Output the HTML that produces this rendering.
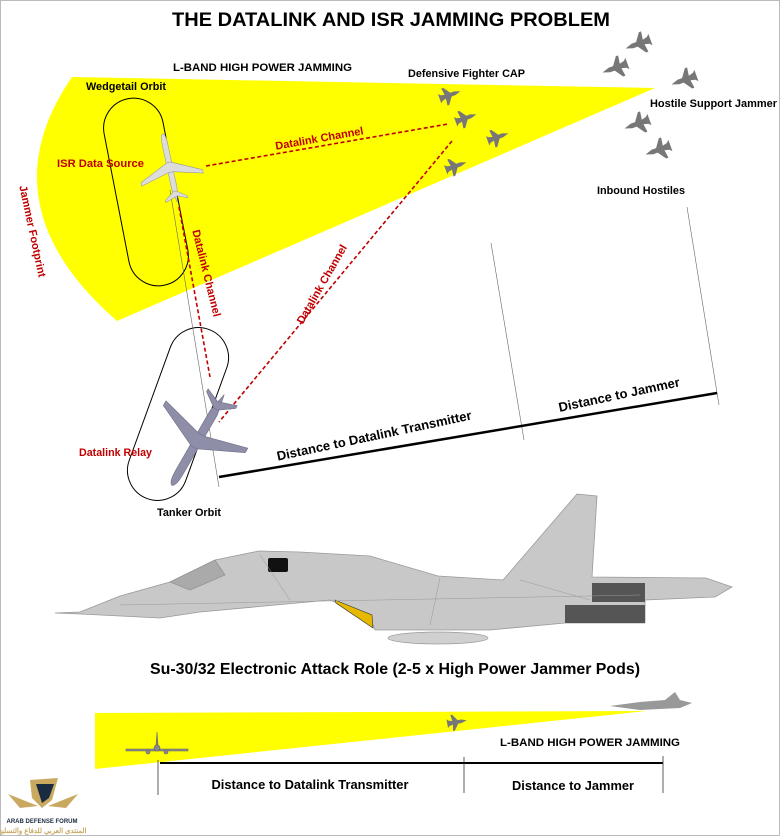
<!DOCTYPE html>
<html><head><meta charset="utf-8"><style>
html,body{margin:0;padding:0;background:#fff}
svg{display:block}
text{font-family:"Liberation Sans",sans-serif;font-weight:bold}
</style></head><body>
<svg width="780" height="836" viewBox="0 0 780 836" xmlns="http://www.w3.org/2000/svg">
<defs>
<g id="air">
<path d="M0,-50 C4,-48 4,-40 4,-30 L4,30 L0,50 L-4,30 L-4,-30 C-4,-40 -4,-48 0,-50Z"/>
<path d="M-3,-8 L-45,12 L-45,17 L-3,6 L3,6 L45,17 L45,12 L3,-8Z"/>
<path d="M-2,34 L-16,44 L-16,47 L2,41 L16,47 L16,44 L2,34Z"/>
</g>
<g id="ftr">
<path d="M0,-11 L2,-5 L2,-1 L9,4 L9,6 L2,5 L3,9 L5,11 L-5,11 L-3,9 L-2,5 L-9,6 L-9,4 L-2,-1 L-2,-5Z"/>
</g>
</defs>
<rect x="0.5" y="0.5" width="779" height="835" fill="none" stroke="#bbb"/>
<text x="391" y="26" font-size="19" text-anchor="middle" textLength="438" lengthAdjust="spacingAndGlyphs">THE DATALINK AND ISR JAMMING PROBLEM</text>

<!-- jammer footprint -->
<path d="M72,77 L655,88 L117,321 Q-16,205 72,77Z" fill="#ffff00"/>

<!-- orbits -->
<rect x="116" y="97" width="60" height="190" rx="30" fill="none" stroke="#000" stroke-width="1" transform="rotate(-11 146 192)"/>
<rect x="148" y="324" width="60" height="180" rx="30" fill="none" stroke="#000" stroke-width="1" transform="rotate(20 178 414)"/>

<!-- thin lines -->
<line x1="170" y1="190" x2="219" y2="487" stroke="#666" stroke-width="0.6"/>
<line x1="491" y1="243" x2="524" y2="440" stroke="#666" stroke-width="0.6"/>
<line x1="687" y1="207" x2="719" y2="405" stroke="#666" stroke-width="0.6"/>
<line x1="219" y1="477" x2="717" y2="393" stroke="#000" stroke-width="2.5"/>

<!-- dashed datalinks -->
<g stroke="#c00000" stroke-width="1.6" stroke-dasharray="4,2.5" fill="none">
<line x1="206" y1="166" x2="448" y2="124"/>
<line x1="452" y1="141" x2="219" y2="422"/>
<line x1="179" y1="207" x2="210" y2="377"/>
</g>

<!-- planes -->
<use href="#air" fill="#dcdcdc" stroke="#999" stroke-width="0.8" transform="translate(170,168) rotate(-12) scale(0.7)"/>
<use href="#air" fill="#8e8ea8" stroke="#70708a" stroke-width="0.6" transform="translate(198,440) rotate(210) scale(1.05)"/>
<g fill="#777">
<use href="#ftr" transform="translate(450,95) rotate(70)"/>
<use href="#ftr" transform="translate(466,118) rotate(70)"/>
<use href="#ftr" transform="translate(498,137) rotate(70)"/>
<use href="#ftr" transform="translate(456,166) rotate(70)"/>
<use href="#ftr" transform="translate(638,44) rotate(-110) scale(1.2)"/>
<use href="#ftr" transform="translate(615,68) rotate(-110) scale(1.2)"/>
<use href="#ftr" transform="translate(684,80) rotate(-110) scale(1.2)"/>
<use href="#ftr" transform="translate(637,124) rotate(-110) scale(1.2)"/>
<use href="#ftr" transform="translate(658,150) rotate(-110) scale(1.2)"/>
</g>

<!-- labels -->
<g font-size="11">
<text x="173" y="71" textLength="179" lengthAdjust="spacingAndGlyphs">L-BAND HIGH POWER JAMMING</text>
<text x="408" y="77" textLength="117" lengthAdjust="spacingAndGlyphs">Defensive Fighter CAP</text>
<text x="86" y="90" textLength="80" lengthAdjust="spacingAndGlyphs">Wedgetail Orbit</text>
<text x="650" y="107" textLength="127" lengthAdjust="spacingAndGlyphs">Hostile Support Jammer</text>
<text x="597" y="194" textLength="88" lengthAdjust="spacingAndGlyphs">Inbound Hostiles</text>
<text x="157" y="516" textLength="64" lengthAdjust="spacingAndGlyphs">Tanker Orbit</text>
<g fill="#c00000">
<text x="57" y="167" textLength="87" lengthAdjust="spacingAndGlyphs">ISR  Data Source</text>
<text x="79" y="456" textLength="73" lengthAdjust="spacingAndGlyphs">Datalink Relay</text>
<text transform="translate(320,142) rotate(-10)" text-anchor="middle">Datalink Channel</text>
<text transform="translate(203,274) rotate(76)" text-anchor="middle">Datalink Channel</text>
<text transform="translate(325,286) rotate(-60)" text-anchor="middle">Datalink Channel</text>
<text transform="translate(29,232) rotate(78)" text-anchor="middle">Jammer Footprint</text>
</g>
</g>
<g font-size="13">
<text transform="translate(375,440) rotate(-12)" text-anchor="middle">Distance to Datalink Transmitter</text>
<text transform="translate(620,399) rotate(-12)" text-anchor="middle">Distance to Jammer</text>
</g>

<!-- Su-34 side view -->
<path d="M55,613 L80,612 L120,596 L170,582 L215,560 L259,551 L300,552 L370,556 L438,576 L503,580 L577,494 L597,496 L592,577 L706,578 L732,587 L715,597 L645,600 L645,623 L565,623 L490,630 L375,630 L370,617 L330,600 L200,612 L160,618 L80,614Z" fill="#c8c8c8" stroke="#999" stroke-width="0.8"/>
<path d="M170,582 L215,560 L225,575 L190,590Z" fill="#aaa" stroke="#888" stroke-width="0.6"/>
<rect x="268" y="558" width="20" height="14" rx="2" fill="#111"/>
<rect x="592" y="583" width="53" height="19" fill="#555"/>
<rect x="565" y="605" width="80" height="18" fill="#555"/>
<path d="M335,600 L372,615 L373,628 L336,603Z" fill="#e6b800" stroke="#333" stroke-width="0.6"/>
<ellipse cx="438" cy="638" rx="50" ry="6" fill="#d0d0d0" stroke="#999" stroke-width="0.7"/>
<g stroke="#999" stroke-width="0.5" fill="none">
<path d="M120,605 L640,595"/><path d="M260,555 L290,600"/><path d="M440,578 L430,625"/><path d="M520,580 L590,600"/>
</g>
<text x="395" y="674" font-size="16" text-anchor="middle" textLength="490" lengthAdjust="spacingAndGlyphs">Su-30/32 Electronic Attack Role (2-5 x High Power Jammer Pods)</text>

<!-- bottom diagram -->
<path d="M95,713 L647,711 L95,769Z" fill="#ffff00"/>
<use href="#ftr" fill="#777" transform="translate(457,722) rotate(80) scale(0.9)"/>
<path d="M610,706 L640,702 L665,700 L675,692 L680,700 L692,703 L680,708 L640,710Z" fill="#999"/>
<g fill="#888" stroke="#666" stroke-width="0.6">
<path d="M126,749 L188,749 L188,751 L126,751Z"/><path d="M157,732 L158,745 L156,745Z"/><circle cx="157" cy="748" r="3"/><circle cx="148" cy="752" r="2"/><circle cx="166" cy="752" r="2"/>
</g>
<line x1="160" y1="763" x2="663" y2="763" stroke="#000" stroke-width="2"/>
<g stroke="#333" stroke-width="0.8">
<line x1="158" y1="760" x2="158" y2="795"/><line x1="464" y1="757" x2="464" y2="793"/><line x1="663" y1="756" x2="663" y2="793"/>
</g>
<text x="590" y="746" font-size="11" text-anchor="middle" textLength="180" lengthAdjust="spacingAndGlyphs">L-BAND HIGH POWER JAMMING</text>
<text x="310" y="789" font-size="13" text-anchor="middle" textLength="197" lengthAdjust="spacingAndGlyphs">Distance to Datalink Transmitter</text>
<text x="573" y="790" font-size="13" text-anchor="middle" textLength="122" lengthAdjust="spacingAndGlyphs">Distance to Jammer</text>

<!-- watermark -->
<path d="M30,780 L58,778 L52,800 L42,808 L32,798Z" fill="#c9a860"/>
<path d="M36,784 L54,784 L49,798 L42,803Z" fill="#1a2a40"/>
<path d="M8,794 L38,806 L20,808Z M78,794 L48,806 L66,808Z" fill="#c9a860"/>
<text x="42" y="823" font-size="6" fill="#1a2a40" text-anchor="middle">ARAB DEFENSE FORUM</text>
<text x="42" y="833" font-size="7" fill="#c9a860" text-anchor="middle" font-family="'Liberation Sans','Noto Sans CJK SC',sans-serif">المنتدى العربي للدفاع والتسليح</text>
</svg>
</body></html>
